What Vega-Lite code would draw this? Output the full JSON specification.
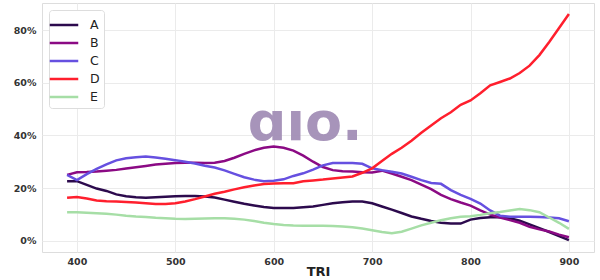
{
  "$schema": "https://vega.github.io/schema/vega-lite/v6.json",
  "width": 552,
  "height": 249,
  "autosize": {"type": "none"},
  "padding": {"left": 42, "top": 3, "right": 6, "bottom": 28},
  "background": "white",
  "config": {
    "font": "DejaVu Sans",
    "view": {"stroke": "#dddddd", "strokeWidth": 1},
    "axis": {
      "grid": true,
      "gridColor": "#ebebeb",
      "gridWidth": 1,
      "domain": false,
      "ticks": false,
      "labelFont": "DejaVu Sans",
      "labelFontWeight": "bold",
      "labelFontSize": 9.5,
      "labelColor": "#333333",
      "labelPadding": 6
    }
  },
  "layer": [
    {
      "data": {"values": [{"x": 632, "y": 0.43, "t": "ɑıo."}]},
      "mark": {"type": "text", "font": "DejaVu Sans", "fontWeight": "bold", "fontSize": 54, "color": "#a38fb7", "opacity": 0.95, "baseline": "middle", "align": "center", "dy": -4},
      "encoding": {
        "x": {"field": "x", "type": "quantitative", "scale": {"domain": [364.5, 925.5], "nice": false, "zero": false}},
        "y": {"field": "y", "type": "quantitative", "scale": {"domain": [-0.043, 0.903], "nice": false}},
        "text": {"field": "t"}
      }
    },
    {
      "data": {"values": [
        {"TRI": 390, "A": 0.226, "B": 0.250, "C": 0.250, "D": 0.163, "E": 0.108},
        {"TRI": 400, "A": 0.226, "B": 0.260, "C": 0.230, "D": 0.166, "E": 0.108},
        {"TRI": 410, "A": 0.212, "B": 0.261, "C": 0.253, "D": 0.160, "E": 0.106},
        {"TRI": 420, "A": 0.198, "B": 0.263, "C": 0.273, "D": 0.153, "E": 0.104},
        {"TRI": 430, "A": 0.189, "B": 0.266, "C": 0.290, "D": 0.150, "E": 0.102},
        {"TRI": 440, "A": 0.176, "B": 0.269, "C": 0.305, "D": 0.149, "E": 0.099},
        {"TRI": 450, "A": 0.169, "B": 0.274, "C": 0.313, "D": 0.147, "E": 0.095},
        {"TRI": 460, "A": 0.165, "B": 0.279, "C": 0.317, "D": 0.145, "E": 0.092},
        {"TRI": 470, "A": 0.163, "B": 0.284, "C": 0.320, "D": 0.142, "E": 0.090},
        {"TRI": 480, "A": 0.165, "B": 0.289, "C": 0.316, "D": 0.139, "E": 0.087},
        {"TRI": 490, "A": 0.167, "B": 0.292, "C": 0.311, "D": 0.139, "E": 0.085},
        {"TRI": 500, "A": 0.169, "B": 0.295, "C": 0.306, "D": 0.142, "E": 0.083},
        {"TRI": 510, "A": 0.170, "B": 0.296, "C": 0.300, "D": 0.149, "E": 0.082},
        {"TRI": 520, "A": 0.170, "B": 0.296, "C": 0.293, "D": 0.158, "E": 0.083},
        {"TRI": 530, "A": 0.168, "B": 0.295, "C": 0.285, "D": 0.168, "E": 0.084},
        {"TRI": 540, "A": 0.164, "B": 0.296, "C": 0.278, "D": 0.178, "E": 0.085},
        {"TRI": 550, "A": 0.156, "B": 0.303, "C": 0.267, "D": 0.186, "E": 0.085},
        {"TRI": 560, "A": 0.148, "B": 0.315, "C": 0.254, "D": 0.195, "E": 0.083},
        {"TRI": 570, "A": 0.140, "B": 0.330, "C": 0.241, "D": 0.203, "E": 0.080},
        {"TRI": 580, "A": 0.134, "B": 0.343, "C": 0.232, "D": 0.210, "E": 0.075},
        {"TRI": 590, "A": 0.128, "B": 0.353, "C": 0.226, "D": 0.215, "E": 0.068},
        {"TRI": 600, "A": 0.124, "B": 0.358, "C": 0.228, "D": 0.217, "E": 0.063},
        {"TRI": 610, "A": 0.124, "B": 0.353, "C": 0.233, "D": 0.218, "E": 0.060},
        {"TRI": 620, "A": 0.124, "B": 0.342, "C": 0.246, "D": 0.218, "E": 0.058},
        {"TRI": 630, "A": 0.127, "B": 0.323, "C": 0.256, "D": 0.226, "E": 0.057},
        {"TRI": 640, "A": 0.130, "B": 0.300, "C": 0.270, "D": 0.229, "E": 0.057},
        {"TRI": 650, "A": 0.136, "B": 0.280, "C": 0.286, "D": 0.232, "E": 0.057},
        {"TRI": 660, "A": 0.142, "B": 0.268, "C": 0.295, "D": 0.236, "E": 0.056},
        {"TRI": 670, "A": 0.146, "B": 0.264, "C": 0.295, "D": 0.240, "E": 0.054},
        {"TRI": 680, "A": 0.149, "B": 0.263, "C": 0.295, "D": 0.244, "E": 0.051},
        {"TRI": 690, "A": 0.149, "B": 0.260, "C": 0.292, "D": 0.258, "E": 0.046},
        {"TRI": 700, "A": 0.142, "B": 0.259, "C": 0.275, "D": 0.275, "E": 0.040},
        {"TRI": 710, "A": 0.130, "B": 0.266, "C": 0.268, "D": 0.303, "E": 0.033},
        {"TRI": 720, "A": 0.118, "B": 0.255, "C": 0.262, "D": 0.330, "E": 0.028},
        {"TRI": 730, "A": 0.105, "B": 0.243, "C": 0.255, "D": 0.353, "E": 0.034},
        {"TRI": 740, "A": 0.092, "B": 0.230, "C": 0.243, "D": 0.380, "E": 0.046},
        {"TRI": 750, "A": 0.083, "B": 0.213, "C": 0.230, "D": 0.410, "E": 0.058},
        {"TRI": 760, "A": 0.075, "B": 0.196, "C": 0.219, "D": 0.438, "E": 0.068},
        {"TRI": 770, "A": 0.068, "B": 0.174, "C": 0.216, "D": 0.465, "E": 0.078},
        {"TRI": 780, "A": 0.065, "B": 0.158, "C": 0.192, "D": 0.488, "E": 0.085},
        {"TRI": 790, "A": 0.065, "B": 0.145, "C": 0.174, "D": 0.516, "E": 0.091},
        {"TRI": 800, "A": 0.080, "B": 0.133, "C": 0.159, "D": 0.533, "E": 0.093},
        {"TRI": 810, "A": 0.086, "B": 0.115, "C": 0.141, "D": 0.560, "E": 0.098},
        {"TRI": 820, "A": 0.089, "B": 0.099, "C": 0.115, "D": 0.590, "E": 0.104},
        {"TRI": 830, "A": 0.090, "B": 0.088, "C": 0.095, "D": 0.603, "E": 0.109},
        {"TRI": 840, "A": 0.085, "B": 0.078, "C": 0.091, "D": 0.616, "E": 0.115},
        {"TRI": 850, "A": 0.076, "B": 0.068, "C": 0.091, "D": 0.637, "E": 0.120},
        {"TRI": 860, "A": 0.062, "B": 0.053, "C": 0.091, "D": 0.665, "E": 0.116},
        {"TRI": 870, "A": 0.048, "B": 0.043, "C": 0.090, "D": 0.705, "E": 0.108},
        {"TRI": 880, "A": 0.033, "B": 0.035, "C": 0.088, "D": 0.755, "E": 0.088},
        {"TRI": 890, "A": 0.017, "B": 0.023, "C": 0.085, "D": 0.808, "E": 0.068},
        {"TRI": 900, "A": 0.002, "B": 0.013, "C": 0.074, "D": 0.861, "E": 0.045}
      ]},
      "transform": [{"fold": ["A", "B", "C", "D", "E"], "as": ["series", "value"]}],
      "mark": {"type": "line", "strokeWidth": 2.5, "interpolate": "linear"},
      "encoding": {
        "x": {"field": "TRI", "type": "quantitative", "scale": {"domain": [364.5, 925.5], "nice": false, "zero": false},
          "axis": {"values": [400, 500, 600, 700, 800, 900], "title": "TRI", "titleFontSize": 13, "titleFontWeight": "bold", "titleColor": "#222222", "titlePadding": 0, "labelPadding": 4}},
        "y": {"field": "value", "type": "quantitative", "scale": {"domain": [-0.043, 0.903], "nice": false},
          "axis": {"values": [0, 0.2, 0.4, 0.6, 0.8], "format": ".0%", "title": null}},
        "color": {"field": "series", "type": "nominal",
          "scale": {"domain": ["A", "B", "C", "D", "E"], "range": ["#2c0a4d", "#8b0a84", "#6650e0", "#ff1f2d", "#a6dea6"]},
          "legend": {"title": null, "orient": "top-left", "offset": 7, "symbolType": "M-1.5,0H1.5", "symbolStrokeWidth": 2.5, "symbolSize": 361,
            "labelFontSize": 12.5, "labelColor": "#222222", "labelFont": "DejaVu Sans", "labelOffset": 15,
            "fillColor": "white", "strokeColor": "#dddddd", "cornerRadius": 3, "padding": 4, "rowPadding": 0}}
      }
    }
  ]
}
